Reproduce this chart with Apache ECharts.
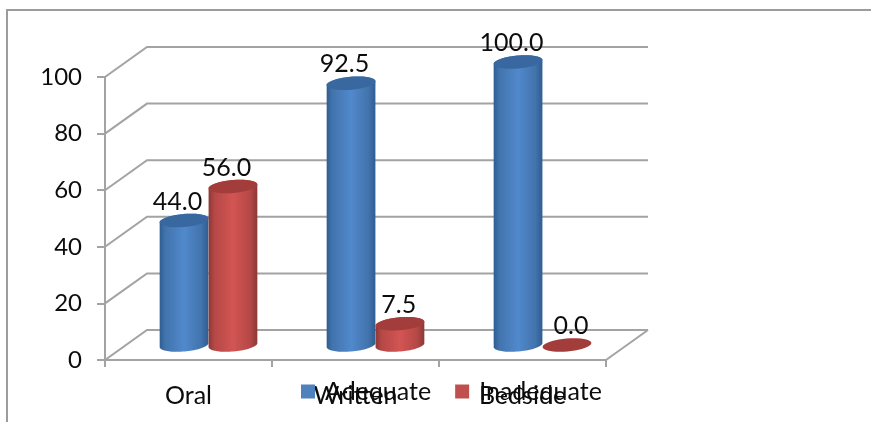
<!DOCTYPE html>
<html>
<head>
<meta charset="utf-8">
<style>html,body{margin:0;padding:0;background:#fff}#chart{width:871px;height:422px}</style>
<script src="https://cdn.jsdelivr.net/npm/echarts@6/dist/echarts.min.js"></script>
</head>
<body>
<div id="chart"></div>
<script>
// Feedback quality by handover type
const categories = ['Oral', 'Written', 'Bedside'];
const adequate = [44.0, 92.5, 100.0];
const inadequate = [56.0, 7.5, 0.0];
const yTicks = [0, 20, 40, 60, 80, 100];

const GREY = '#a3a3a3';
const INK = '#0c0c0c';
const FONT = 'Lato';
const DEPTH = { x: 42, y: -30 };     // offset of the back wall from the front plane
const TILT = -5 * Math.PI / 180;     // slant of the cylinder ellipses
const CYL_SHARE = 0.293;             // cylinder width as a share of the category band
const CYL_RY = 6.5;

const chart = echarts.init(document.getElementById('chart'), null, { renderer: 'canvas' });

// Samples part of a slanted ellipse as polygon points
function arc(cx, cy, rx, ry, from, to) {
  const pts = [];
  const n = 40;
  for (let i = 0; i <= n; i++) {
    const t = from + (to - from) * i / n;
    const ex = rx * Math.cos(t), ey = ry * Math.sin(t);
    pts.push([cx + ex * Math.cos(TILT) - ey * Math.sin(TILT),
              cy + ex * Math.sin(TILT) + ey * Math.cos(TILT)]);
  }
  return pts;
}

// Back wall, side wall and floor lines
function renderWalls(params, api) {
  const cs = params.coordSys;
  const v = api.value(0);
  const y = api.coord([0, v])[1];
  const style = { stroke: GREY, lineWidth: 2, fill: null };
  const children = [{
    type: 'polyline',
    shape: { points: [[cs.x, y], [cs.x + DEPTH.x, y + DEPTH.y], [cs.x + cs.width + DEPTH.x, y + DEPTH.y]] },
    style
  }];
  if (v === 0) {
    children.push({
      type: 'line',
      shape: { x1: cs.x + cs.width, y1: y, x2: cs.x + cs.width + DEPTH.x, y2: y + DEPTH.y },
      style
    });
  }
  return { type: 'group', children };
}

// One cylinder per data item; side is -1 for the left series and +1 for the right one
function cylinderRenderer(side, palette) {
  return function (params, api) {
    const cat = api.value(0), val = api.value(1);
    const band = api.size([1, 0])[0];
    const rx = band * CYL_SHARE / 2;
    const base = api.coord([cat, 0]);
    const top = api.coord([cat, val]);
    const cx = base[0] + DEPTH.x / 2 - 1 + side * rx;
    const yBase = base[1] + DEPTH.y / 2;
    const yTop = top[1] + DEPTH.y / 2;
    const children = [];
    if (val > 0) {
      const lower = arc(cx, yBase, rx, CYL_RY, 0, Math.PI);
      const upper = arc(cx, yTop, rx, CYL_RY, Math.PI, 2 * Math.PI);
      children.push({
        type: 'polygon',
        shape: { points: lower.concat(upper) },
        style: {
          fill: new echarts.graphic.LinearGradient(0, 0, 1, 0, [
            { offset: 0, color: palette.edge },
            { offset: 0.12, color: palette.mid },
            { offset: 0.5, color: palette.light },
            { offset: 0.85, color: palette.mid },
            { offset: 1, color: palette.edge }
          ])
        }
      });
    }
    children.push({
      type: 'polygon',
      shape: { points: arc(cx, yTop, rx, CYL_RY, 0, 2 * Math.PI) },
      style: { fill: palette.cap }
    });
    // Labels of short columns sit further right than those of tall ones
    const drift = Math.max(-6.5, 4 - 0.7 * val);
    children.push({
      type: 'text',
      z2: 10,
      style: {
        text: val.toFixed(1),
        x: cx + drift,
        y: yTop - 19,
        align: 'center',
        verticalAlign: 'middle',
        font: '25px ' + FONT,
        fill: INK
      }
    });
    return { type: 'group', children };
  };
}

chart.setOption({
  animation: false,
  backgroundColor: '#fff',
  grid: { left: 105, right: 265, top: 77, bottom: 62, containLabel: false },
  legend: {
    data: ['Adequate', 'Inadequate'],
    left: 296,
    top: 374,
    icon: 'rect',
    itemWidth: 14,
    itemHeight: 14,
    itemGap: 24,
    textStyle: { fontFamily: FONT, fontSize: 25, color: INK, padding: [0, 0, 0, 5] },
    z: 20
  },
  xAxis: {
    type: 'category',
    data: categories,
    boundaryGap: true,
    axisLine: { lineStyle: { color: GREY, width: 2 } },
    axisTick: { show: true, length: 7, alignWithLabel: false, lineStyle: { color: GREY, width: 2 } },
    axisLabel: { fontFamily: FONT, fontSize: 25, color: INK, margin: 23 }
  },
  yAxis: {
    type: 'value',
    min: 0,
    max: 100,
    interval: 20,
    splitLine: { show: false },
    axisLine: { show: true, lineStyle: { color: GREY, width: 2 } },
    axisTick: { show: true, length: 8, lineStyle: { color: GREY, width: 2 } },
    axisLabel: { fontFamily: FONT, fontSize: 24, color: INK, margin: 23 }
  },
  graphic: [
    {
      type: 'polyline',
      silent: true,
      shape: { points: [[7, 422], [7, 10], [871, 10]] },
      style: { stroke: '#9c9c9c', lineWidth: 2, fill: null }
    }
  ],
  series: [
    {
      type: 'custom',
      silent: true,
      z: 1,
      data: yTicks.map(v => [v]),
      encode: { y: 0 },
      renderItem: renderWalls
    },
    {
      type: 'custom',
      name: 'Adequate',
      z: 2,
      itemStyle: { color: '#4f81bd' },
      data: adequate.map((v, i) => [i, v]),
      encode: { x: 0, y: 1 },
      renderItem: cylinderRenderer(-1, { edge: '#2f5d92', mid: '#4274ad', light: '#5189cd', cap: '#38689f' })
    },
    {
      type: 'custom',
      name: 'Inadequate',
      z: 3,
      itemStyle: { color: '#c0504d' },
      data: inadequate.map((v, i) => [i, v]),
      encode: { x: 0, y: 1 },
      renderItem: cylinderRenderer(1, { edge: '#8c3836', mid: '#b54846', light: '#d25553', cap: '#a33d3b' })
    }
  ]
});
</script>
</body>
</html>
